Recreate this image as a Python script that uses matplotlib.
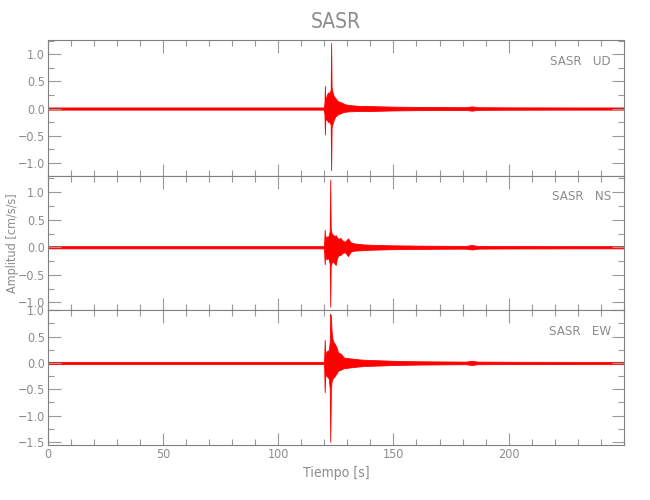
import matplotlib
matplotlib.use("Agg")
import matplotlib.pyplot as plt
from matplotlib.ticker import MultipleLocator

plt.rcParams['font.family'] = ['DejaVu Sans']
plt.rcParams['font.stretch'] = 'condensed'

# ---- data (envelopes) ----
station = "SASR"
components = ["UD", "NS", "EW"]

t_ud = [0, 119.8, 120.1, 120.3, 120.5, 120.8, 121.3, 121.8, 122.3, 122.8, 123.0, 123.2, 123.6, 124.2,
        124.8, 125.5, 126.2, 127.0, 128.0, 129.0, 130.0, 132, 135, 140, 145, 150, 160, 170,
        181.5, 184, 186.5, 200, 230, 250]
up_ud = [0.02, 0.02, 0.1, 0.42, 0.12, 0.2, 0.27, 0.3, 0.28, 0.35, 1.21, 0.4, 0.3, 0.22,
         0.2, 0.15, 0.13, 0.12, 0.1, 0.08, 0.07, 0.06, 0.05, 0.045, 0.04, 0.035, 0.03, 0.027,
         0.025, 0.04, 0.025, 0.022, 0.02, 0.02]
lo_ud = [-0.02, -0.02, -0.1, -0.48, -0.15, -0.2, -0.22, -0.25, -0.25, -0.3, -1.14, -0.35, -0.28, -0.2,
         -0.15, -0.12, -0.1, -0.09, -0.07, -0.06, -0.055, -0.05, -0.045, -0.045, -0.04, -0.035, -0.03, -0.027,
         -0.025, -0.04, -0.025, -0.022, -0.02, -0.02]

t_ns = [0, 119.8, 120.0, 120.2, 120.5, 121.0, 121.5, 122.0, 122.4, 122.6, 122.8, 123.2, 123.8, 124.5,
        125.0, 125.5, 126.2, 127.0, 128.0, 129.0, 130.3, 131.5, 133, 136, 140, 145, 150, 160, 170,
        181.5, 184, 186.5, 200, 230, 250]
up_ns = [0.02, 0.02, 0.1, 0.32, 0.15, 0.2, 0.18, 0.22, 0.3, 1.23, 0.35, 0.25, 0.23, 0.2,
         0.22, 0.18, 0.15, 0.17, 0.12, 0.1, 0.16, 0.09, 0.07, 0.055, 0.045, 0.04, 0.035, 0.03, 0.027,
         0.025, 0.04, 0.025, 0.022, 0.02, 0.02]
lo_ns = [-0.02, -0.02, -0.1, -0.31, -0.15, -0.22, -0.2, -0.22, -0.3, -1.08, -0.35, -0.28, -0.25, -0.3,
         -0.32, -0.2, -0.14, -0.14, -0.1, -0.09, -0.16, -0.08, -0.06, -0.055, -0.045, -0.04, -0.035, -0.03, -0.027,
         -0.025, -0.04, -0.025, -0.022, -0.02, -0.02]

t_ew = [0, 119.8, 120.0, 120.2, 120.5, 121.0, 121.5, 122.0, 122.4, 122.6, 122.9, 123.2, 123.6, 124.0,
        124.6, 125.3, 126.0, 127.0, 128.6, 130.5, 132.5, 134.5, 137, 140, 144, 150, 160, 170,
        181.5, 184, 186.5, 200, 230, 250]
up_ew = [0.02, 0.02, 0.1, 0.44, 0.15, 0.22, 0.23, 0.25, 0.4, 0.93, 0.88, 0.6, 0.45, 0.4,
         0.36, 0.3, 0.2, 0.18, 0.1, 0.09, 0.08, 0.07, 0.06, 0.055, 0.05, 0.04, 0.032, 0.028,
         0.025, 0.04, 0.025, 0.022, 0.02, 0.02]
lo_ew = [-0.02, -0.02, -0.1, -0.56, -0.2, -0.25, -0.27, -0.3, -0.5, -1.5, -0.5, -0.35, -0.3, -0.28,
         -0.25, -0.2, -0.15, -0.13, -0.1, -0.09, -0.08, -0.07, -0.06, -0.055, -0.05, -0.04, -0.032, -0.028,
         -0.025, -0.04, -0.025, -0.022, -0.02, -0.02]

ylims = [(-1.24, 1.26), (-1.145, 1.30), (-1.56, 1.0)]
xlim = (0, 250)
xticks = [0, 50, 100, 150, 200]

series = [(t_ud, up_ud, lo_ud), (t_ns, up_ns, lo_ns), (t_ew, up_ew, lo_ew)]

# ---- figure ----
fig = plt.figure(figsize=(6.5, 5.0), dpi=100)
left, width = 47.5 / 650, (624 - 47.5) / 650
edges_px = [40.3, 175.7, 310.3, 445.0]
text_col = "#8c8c8c"
spine_col = "#808080"

axes = []
for i in range(3):
    top_px, bot_px = edges_px[i], edges_px[i + 1]
    ax = fig.add_axes([left, 1 - bot_px / 500, width, (bot_px - top_px) / 500])
    t, up, lo = series[i]
    ax.fill_between(t, lo, up, color="red", edgecolor="red", linewidth=0.6)
    ax.set_xlim(*xlim)
    ax.set_ylim(*ylims[i])
    ax.set_xticks(xticks)
    ax.xaxis.set_minor_locator(MultipleLocator(10))
    ax.yaxis.set_major_locator(MultipleLocator(0.5))
    ax.yaxis.set_minor_locator(MultipleLocator(0.25))
    ax.tick_params(axis="both", which="major", direction="in", length=9, width=0.8,
                   color="#999999", labelcolor=text_col, labelsize=9,
                   top=True, right=True, pad=2)
    ax.tick_params(axis="both", which="minor", direction="in", length=4.5, width=0.8,
                   color="#999999", top=True, right=True)
    for s in ax.spines.values():
        s.set_color(spine_col)
        s.set_linewidth(0.8)
    if i < 2:
        ax.tick_params(axis="x", labelbottom=False)
    ax.yaxis.set_major_formatter(matplotlib.ticker.FuncFormatter(
        lambda v, p: ("\u2212" if v < -1e-9 else "") + f"{abs(v):.1f}"))
    ax.text(611 / 650, 1 - (top_px + 21) / 500, f"{station}   {components[i]}",
            transform=fig.transFigure, ha="right", va="center",
            fontsize=9.5, color=text_col)
    axes.append(ax)

fig.text(335.7 / 650, 1 - 21.5 / 500, station, ha="center", va="center",
         fontsize=15, color=text_col)
fig.text(336 / 650, 1 - 472.5 / 500, "Tiempo [s]", ha="center", va="center",
         fontsize=10, color=text_col)
fig.text(13 / 650, 1 - 242.7 / 500, "Amplitud [cm/s/s]", ha="center", va="center",
         rotation=90, fontsize=9, color=text_col)

fig.savefig("out.png", dpi=100)
